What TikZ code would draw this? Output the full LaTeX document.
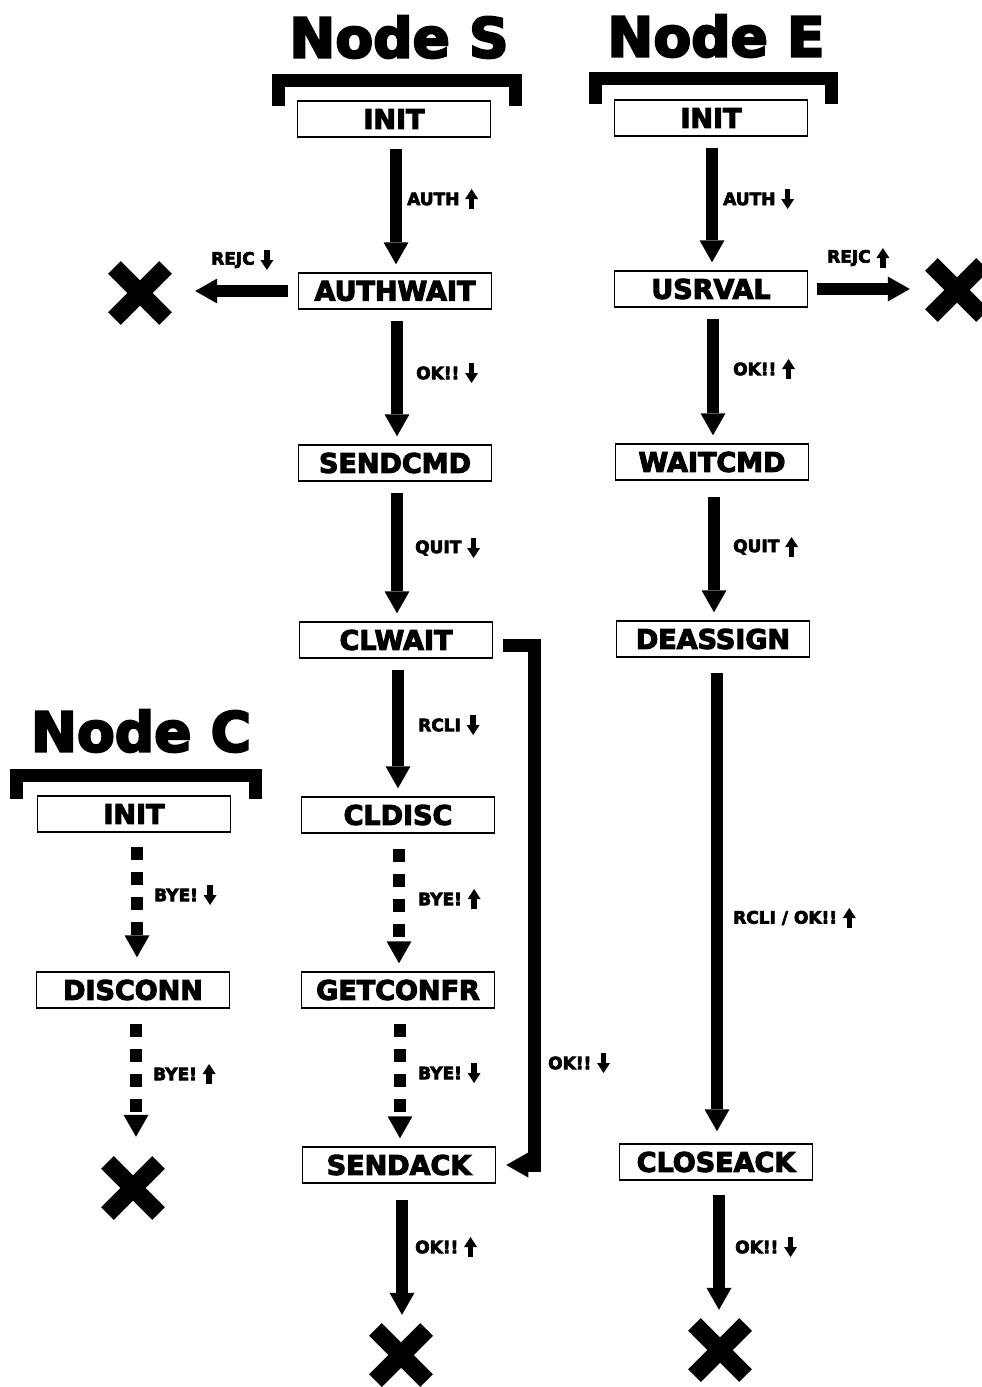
\documentclass[tikz,border=0pt]{standalone}
\usepackage{fontspec}
\setmainfont{DejaVu Sans}[BoldFeatures={FakeBold=4}]
\usetikzlibrary{arrows.meta}
\begin{document}
\begin{tikzpicture}[x=1pt,y=-1pt,
  box/.style={draw,line width=1.5pt,minimum width=193pt,minimum height=36pt,inner sep=0pt,
    font=\bfseries\fontsize{27}{30}\selectfont},
  title/.style={inner sep=0pt,font=\bfseries\fontsize{55}{60}\selectfont},
  lab/.style={inner sep=0pt,anchor=west,font=\bfseries\fontsize{17}{19}\selectfont},
  flow/.style={line width=12pt,-{Triangle[width=25pt,length=22pt,line width=0pt]},
    shorten <=11pt,shorten >=8pt},
  dflow/.style={flow,dash pattern=on 13pt off 12pt},
  mini/.style={line width=5.5pt,-{Triangle[width=13pt,length=10pt,line width=0pt]}},
  bracket/.style={line width=13pt,miter limit=10},
  xmark/.style={inner sep=0pt,minimum size=64pt,
    path picture={\draw[line width=18pt]
      ([shift={(-25.6pt,-25.6pt)}]path picture bounding box.center) --
      ([shift={(25.6pt,25.6pt)}]path picture bounding box.center);
      \draw[line width=18pt]
      ([shift={(-25.6pt,25.6pt)}]path picture bounding box.center) --
      ([shift={(25.6pt,-25.6pt)}]path picture bounding box.center);}}
]
\newcommand\labup[3]{\node[lab] (#1) at (#2) {#3};
  \draw[mini] ([xshift=12pt,yshift=-10pt]#1.east) -- ([xshift=12pt,yshift=10pt]#1.east);}
\newcommand\labdn[3]{\node[lab] (#1) at (#2) {#3};
  \draw[mini] ([xshift=12pt,yshift=10pt]#1.east) -- ([xshift=12pt,yshift=-10pt]#1.east);}
\useasboundingbox (0,0) rectangle (982,1387);
\clip (0,0) rectangle (982,1387);
\fill[white] (0,0) rectangle (982,1387);

% titles
\node[title] (tS) at (399,37) {Node S};
\node[title] (tE) at (716,36) {Node E};
\node[title] (tC) at (141,731) {Node C};

% brackets
\draw[bracket] (278.5,106) -- (278.5,80.5) -- (515,80.5) -- (515,106);
\draw[bracket] (595.5,104) -- (595.5,78.5) -- (831.5,78.5) -- (831.5,104);
\draw[bracket] (16.5,799) -- (16.5,775.5) -- (255,775.5) -- (255,799);

% S column
\node[box] (sInit) at (394,119) {INIT};
\node[box] (sAuth) at (395,291) {AUTHWAIT};
\node[box] (sSend) at (395,463) {SENDCMD};
\node[box] (sClw)  at (396,640) {CLWAIT};
\node[box] (sCld)  at (398,815) {CLDISC};
\node[box] (sGet)  at (398,990) {GETCONFR};
\node[box] (sAck)  at (399,1165) {SENDACK};
\node[xmark] (xS1) at (140,293) {};
\node[xmark] (xS2) at (401,1355) {};

% E column
\node[box] (eInit) at (711,118) {INIT};
\node[box] (eUsr)  at (711,289) {USRVAL};
\node[box] (eWait) at (712,462) {WAITCMD};
\node[box] (eDea)  at (713,639) {DEASSIGN};
\node[box] (eClo)  at (716,1162) {CLOSEACK};
\node[xmark] (xE1) at (957,290) {};
\node[xmark] (xE2) at (720,1350) {};

% C column
\node[box] (cInit) at (134,814) {INIT};
\node[box] (cDis)  at (133,990) {DISCONN};
\node[xmark] (xC) at (133,1188) {};

% S arrows
\draw[flow] ([xshift=2pt]sInit.south) -- ([xshift=2pt]sInit.south |- sAuth.north);
\draw[flow] ([xshift=2pt]sAuth.south) -- ([xshift=2pt]sAuth.south |- sSend.north);
\draw[flow] ([xshift=2pt]sSend.south) -- ([xshift=2pt]sSend.south |- sClw.north);
\draw[flow] ([xshift=2pt]sClw.south) -- ([xshift=2pt]sClw.south |- sCld.north);
\draw[dflow,shorten <=15pt] ([xshift=1pt]sCld.south) -- ([xshift=1pt]sCld.south |- sGet.north);
\draw[dflow,shorten <=15pt] ([xshift=2pt]sGet.south) -- ([xshift=2pt]sGet.south |- sAck.north);
\draw[flow,shorten <=16pt] ([xshift=3pt]sAck.south) -- ([xshift=3pt]sAck.south |- xS2.north);
\draw[flow,shorten <=10pt,shorten >=23pt] (sAuth.west) -- (sAuth.west -| xS1.east);
\coordinate (elb) at (534.5,645);
\draw[flow,line width=13pt,shorten <=0pt,shorten >=0pt]
  ([xshift=10pt]sClw.east |- elb) -| (elb |- sAck.east) -- ([xshift=10pt]sAck.east);

% E arrows
\draw[flow] ([xshift=1pt]eInit.south) -- ([xshift=1pt]eInit.south |- eUsr.north);
\draw[flow] ([xshift=2pt]eUsr.south) -- ([xshift=2pt]eUsr.south |- eWait.north);
\draw[flow,shorten <=16pt] ([xshift=2pt]eWait.south) -- ([xshift=2pt]eWait.south |- eDea.north);
\draw[flow,shorten <=15pt,shorten >=12pt] ([xshift=4pt]eDea.south) -- ([xshift=4pt]eDea.south |- eClo.north);
\draw[flow,shorten <=14pt] ([xshift=3pt]eClo.south) -- ([xshift=3pt]eClo.south |- xE2.north);
\draw[flow,shorten <=9pt,shorten >=15pt] (eUsr.east) -- (eUsr.east -| xE1.west);

% C arrows
\draw[dflow,shorten <=14pt,shorten >=14pt] ([xshift=3pt]cInit.south) -- ([xshift=3pt]cInit.south |- cDis.north);
\draw[dflow,shorten <=15pt,shorten >=19pt] ([xshift=3pt]cDis.south) -- ([xshift=3pt]cDis.south |- xC.north);

% labels
\labup{l1}{407,199}{AUTH}
\labdn{l2}{211,260}{REJC}
\labdn{l3}{416,373}{OK!!\ }
\labdn{l4}{415,548}{QUIT}
\labdn{l5}{418,725}{RCLI}
\labup{l6}{418,899}{BYE!}
\labdn{l7}{418,1073}{BYE!}
\labup{l8}{415,1247}{OK!!}
\labdn{l9}{548,1063}{OK!!}
\labdn{m1}{723,199}{AUTH}
\labup{m2}{827,258}{REJC}
\labup{m3}{733,369}{OK!!\ }
\labup{m4}{733,547}{QUIT}
\labup{m5}{733,918}{RCLI / OK!!}
\labdn{m6}{735,1247}{OK!!}
\labdn{n1}{154,895}{BYE!}
\labup{n2}{153,1074}{BYE!}
\end{tikzpicture}
\end{document}
